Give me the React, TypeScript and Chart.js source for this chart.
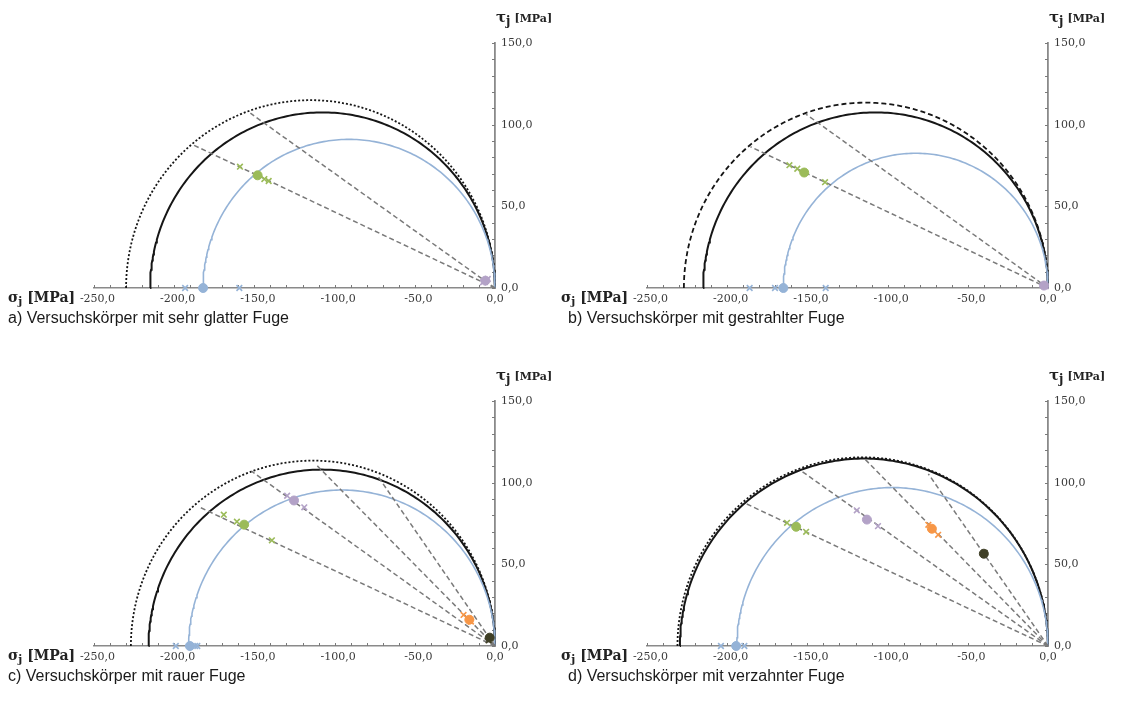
import React, { useEffect, useRef } from 'react';
import { Chart, registerables } from 'chart.js';

Chart.register(...registerables);

type Pt = { x: number; y: number };

// ---------- data ----------
const captions = [
  'a) Versuchskörper mit sehr glatter Fuge',
  'b) Versuchskörper mit gestrahlter Fuge',
  'c) Versuchskörper mit rauer Fuge',
  'd) Versuchskörper mit verzahnter Fuge',
];

const X_MIN = -250;
const X_MAX = 0;
const Y_MIN = 0;
const Y_MAX = 150;
const MINOR_STEP = 10;
const MAJOR_STEP = 50;

// σ1 of the Mohr circles (σ3 = 0) per panel a-d
const sigmaOuterDotted = [-230, -227, -227, -231];
const sigmaSolid = [-215, -215, -216, -229.5];
const sigmaBlue = [-182, -165, -191, -194];

// end points of the dashed rays from the origin, per panel
const rayEnds: Pt[][] = [
  [{ x: -189, y: 88 }, { x: -152.5, y: 107 }],
  [{ x: -185.5, y: 86.5 }, { x: -151, y: 106.5 }],
  [{ x: -184.4, y: 85.1 }, { x: -151.6, y: 106.9 }, { x: -111.1, y: 110.6 }, { x: -73.3, y: 104.3 }],
  [{ x: -188.4, y: 87.2 }, { x: -153.5, y: 107 }, { x: -113.8, y: 114.1 }, { x: -74.6, y: 105.4 }],
];

const greenDot: Pt[][] = [
  [{ x: -148, y: 69 }],
  [{ x: -152, y: 70.7 }],
  [{ x: -156.4, y: 74.3 }],
  [{ x: -157, y: 73 }],
];
const greenCross: Pt[][] = [
  [{ x: -159, y: 74.3 }, { x: -143.8, y: 66.7 }, { x: -141.1, y: 65.5 }],
  [{ x: -161.2, y: 75.2 }, { x: -156.3, y: 73 }, { x: -139, y: 64.8 }],
  [{ x: -169.1, y: 80.4 }, { x: -160.9, y: 76.1 }, { x: -139.1, y: 64.7 }],
  [{ x: -162.7, y: 75.4 }, { x: -150.8, y: 69.9 }],
];
const purpleDot: Pt[][] = [
  [{ x: -6, y: 4.5 }],
  [{ x: -2.5, y: 1.5 }],
  [{ x: -125.3, y: 89.1 }],
  [{ x: -112.9, y: 77.4 }],
];
const purpleCross: Pt[][] = [
  [{ x: -4.5, y: 5.5 }, { x: -7.5, y: 3.5 }],
  [{ x: -1.5, y: 1 }],
  [{ x: -129.6, y: 92 }, { x: -118.9, y: 84.9 }],
  [{ x: -119.2, y: 83.1 }, { x: -106, y: 73.4 }],
];
const orangeDot: Pt[][] = [[], [], [{ x: -16, y: 16.1 }], [{ x: -72.4, y: 71.8 }]];
const orangeCross: Pt[][] = [
  [],
  [],
  [{ x: -19.6, y: 19 }, { x: -15, y: 15 }],
  [{ x: -74.6, y: 74.2 }, { x: -68.5, y: 68.1 }],
];
const darkDot: Pt[][] = [[], [], [{ x: -3.3, y: 5.1 }], [{ x: -40, y: 56.5 }]];
const darkCross: Pt[][] = [[], [], [{ x: -4, y: 3.5 }], [{ x: -39.5, y: 57 }]];

// principal stresses on the σ-axis (τ = 0)
const blueDotSigma = [[-182], [-165], [-190.2], [-194.4]];
const blueCrossSigma = [[-193.2, -159.4], [-186, -170.2, -138.6], [-199, -187, -185.6], [-203.9, -189.3]];

// ---------- styles ----------
const BLUE = '#95b3d7';
const GREEN = '#9bbb59';
const PURPLE = '#b3a2c7';
const ORANGE = '#f79646';
const DARK = '#3f3f26';
const RAY = '#7a7a7a';
const BLACK = '#161616';
const AXIS = '#8a8a8a';
const outerDash = [[2, 2], [5, 3], [2, 2], [2, 2]];

const PANEL_W = 553;
const PANEL_H = 320;
const offsets = [
  { x: 0, y: 0 },
  { x: 553, y: 0 },
  { x: 0, y: 358 },
  { x: 553, y: 358 },
];

function semicircle(s1: number, s3 = 0): Pt[] {
  const c = (s1 + s3) / 2;
  const r = Math.abs(s1 - s3) / 2;
  const pts: Pt[] = [];
  for (let k = 0; k <= 180; k++) {
    const a = (Math.PI * k) / 180;
    pts.push({ x: c - r * Math.cos(a), y: r * Math.sin(a) });
  }
  return pts;
}

const fmt = (v: number) => v.toFixed(1).replace('.', ',');
// negative labels: the minus sign hangs to the left of the centred number
const fmtX = (v: number) => (v < 0 ? '  ' + fmt(v) : fmt(v));

const minorTicks = {
  id: 'minorTicks',
  beforeDatasetsDraw(chart: any) {
    const { ctx } = chart;
    const xs = chart.scales.x;
    const ys = chart.scales.y;
    const y0 = ys.getPixelForValue(0);
    const x0 = xs.getPixelForValue(0);
    ctx.save();
    ctx.strokeStyle = '#7a7a7a';
    ctx.lineWidth = 1;
    for (let v = X_MIN; v <= X_MAX; v += MINOR_STEP) {
      const px = Math.round(xs.getPixelForValue(v)) + 0.5;
      ctx.beginPath();
      ctx.moveTo(px, y0 - 3);
      ctx.lineTo(px, y0);
      ctx.stroke();
    }
    for (let v = Y_MIN; v <= Y_MAX; v += MINOR_STEP) {
      const py = Math.round(ys.getPixelForValue(v)) + 0.5;
      ctx.beginPath();
      ctx.moveTo(x0 - 3, py);
      ctx.lineTo(x0, py);
      ctx.stroke();
    }
    ctx.restore();
  },
};

function markers(data: Pt[], color: string, cross: boolean) {
  return {
    data,
    showLine: false,
    pointStyle: cross ? 'crossRot' : 'circle',
    pointRadius: cross ? 4 : 4.5,
    borderWidth: cross ? 1.6 : 1,
    borderColor: color,
    backgroundColor: color,
    clip: false as any,
    order: 0,
  };
}

function line(data: Pt[], color: string, width: number, dash: number[], order: number) {
  return {
    data,
    showLine: true,
    pointRadius: 0,
    borderColor: color,
    backgroundColor: color,
    borderWidth: width,
    borderDash: dash,
    fill: false,
    clip: false as any,
    order,
  };
}

function Panel({ index }: { index: number }) {
  const ref = useRef<HTMLCanvasElement>(null);
  useEffect(() => {
    if (!ref.current) return;
    const datasets: any[] = [];
    datasets.push(markers(greenDot[index], GREEN, false));
    datasets.push(markers(greenCross[index], GREEN, true));
    datasets.push(markers(purpleDot[index], PURPLE, false));
    datasets.push(markers(purpleCross[index], PURPLE, true));
    datasets.push(markers(orangeDot[index], ORANGE, false));
    datasets.push(markers(orangeCross[index], ORANGE, true));
    datasets.push(markers(darkDot[index], DARK, false));
    datasets.push(markers(darkCross[index], DARK, true));
    datasets.push(markers(blueDotSigma[index].map((s) => ({ x: s, y: 0 })), BLUE, false));
    datasets.push(markers(blueCrossSigma[index].map((s) => ({ x: s, y: 0 })), BLUE, true));
    rayEnds[index].forEach((e) => {
      datasets.push(line([{ x: 0, y: 0 }, e], RAY, 1.5, [5, 3], 1));
    });
    datasets.push(line(semicircle(sigmaBlue[index]), BLUE, 1.6, [], 2));
    datasets.push(line(semicircle(sigmaSolid[index]), BLACK, 2, [], 3));
    datasets.push(line(semicircle(sigmaOuterDotted[index]), BLACK, 1.8, outerDash[index], 4));

    const tickFont = { family: '"DejaVu Serif", serif', size: 11 };
    const chart = new Chart(ref.current, {
      type: 'scatter',
      data: { datasets },
      plugins: [minorTicks],
      options: {
        responsive: false,
        animation: false,
        events: [],
        layout: { padding: { left: 94, top: 43, right: 0, bottom: 0 } },
        plugins: { legend: { display: false }, tooltip: { enabled: false } },
        scales: {
          x: {
            type: 'linear',
            position: 'bottom',
            min: X_MIN,
            max: X_MAX,
            afterFit: (s: any) => {
              s.height = PANEL_H - 288;
            },
            border: { display: true, color: AXIS, width: 1.5 },
            grid: { display: true, drawOnChartArea: false, drawTicks: false },
            ticks: {
              stepSize: MINOR_STEP,
              autoSkip: false,
              maxRotation: 0,
              padding: 5,
              color: '#3a3a3a',
              font: tickFont,
              callback: (v: any) => (Number(v) % MAJOR_STEP === 0 ? fmtX(Number(v)) : ''),
            },
          },
          y: {
            type: 'linear',
            position: 'right',
            min: Y_MIN,
            max: Y_MAX,
            afterFit: (s: any) => {
              s.width = PANEL_W - 495;
            },
            border: { display: true, color: AXIS, width: 1.8 },
            grid: { display: true, drawOnChartArea: false, drawTicks: false },
            ticks: {
              stepSize: MINOR_STEP,
              autoSkip: false,
              padding: 6,
              color: '#3a3a3a',
              font: tickFont,
              callback: (v: any) => (Number(v) % MAJOR_STEP === 0 ? fmt(Number(v)) : ''),
            },
          },
        },
      } as any,
    });
    return () => chart.destroy();
  }, [index]);

  const o = offsets[index];
  const serifBold: React.CSSProperties = {
    fontFamily: '"DejaVu Serif", serif',
    fontWeight: 'bold',
    color: '#222',
    position: 'absolute',
    whiteSpace: 'nowrap',
    lineHeight: 1,
  };
  return (
    <>
      <canvas
        ref={ref}
        width={PANEL_W}
        height={PANEL_H}
        style={{ position: 'absolute', left: o.x, top: o.y, width: PANEL_W, height: PANEL_H }}
      />
      <div style={{ ...serifBold, left: o.x + 8, top: o.y + 290, fontSize: 14 }}>
        σ<sub style={{ fontSize: 11, verticalAlign: '-3px' }}>j</sub> [MPa]
      </div>
      <div style={{ ...serifBold, left: o.x + 496, top: o.y + 10, fontSize: 15 }}>
        τ<sub style={{ fontSize: 12, verticalAlign: '-3px' }}>j</sub>
        <span style={{ fontSize: 11, marginLeft: 4 }}>[MPa]</span>
      </div>
      <div
        style={{
          position: 'absolute',
          left: o.x + (index % 2 === 0 ? 8 : 15),
          top: o.y + 310,
          fontFamily: '"Liberation Sans", Arial, sans-serif',
          fontSize: 16,
          color: '#1a1a1a',
          whiteSpace: 'nowrap',
          lineHeight: 1,
        }}
      >
        {captions[index]}
      </div>
    </>
  );
}

export default function App() {
  return (
    <div style={{ position: 'absolute', left: 0, top: 0, width: 1126, height: 710, background: '#fff', overflow: 'hidden' }}>
      {[0, 1, 2, 3].map((i) => (
        <Panel key={i} index={i} />
      ))}
    </div>
  );
}
